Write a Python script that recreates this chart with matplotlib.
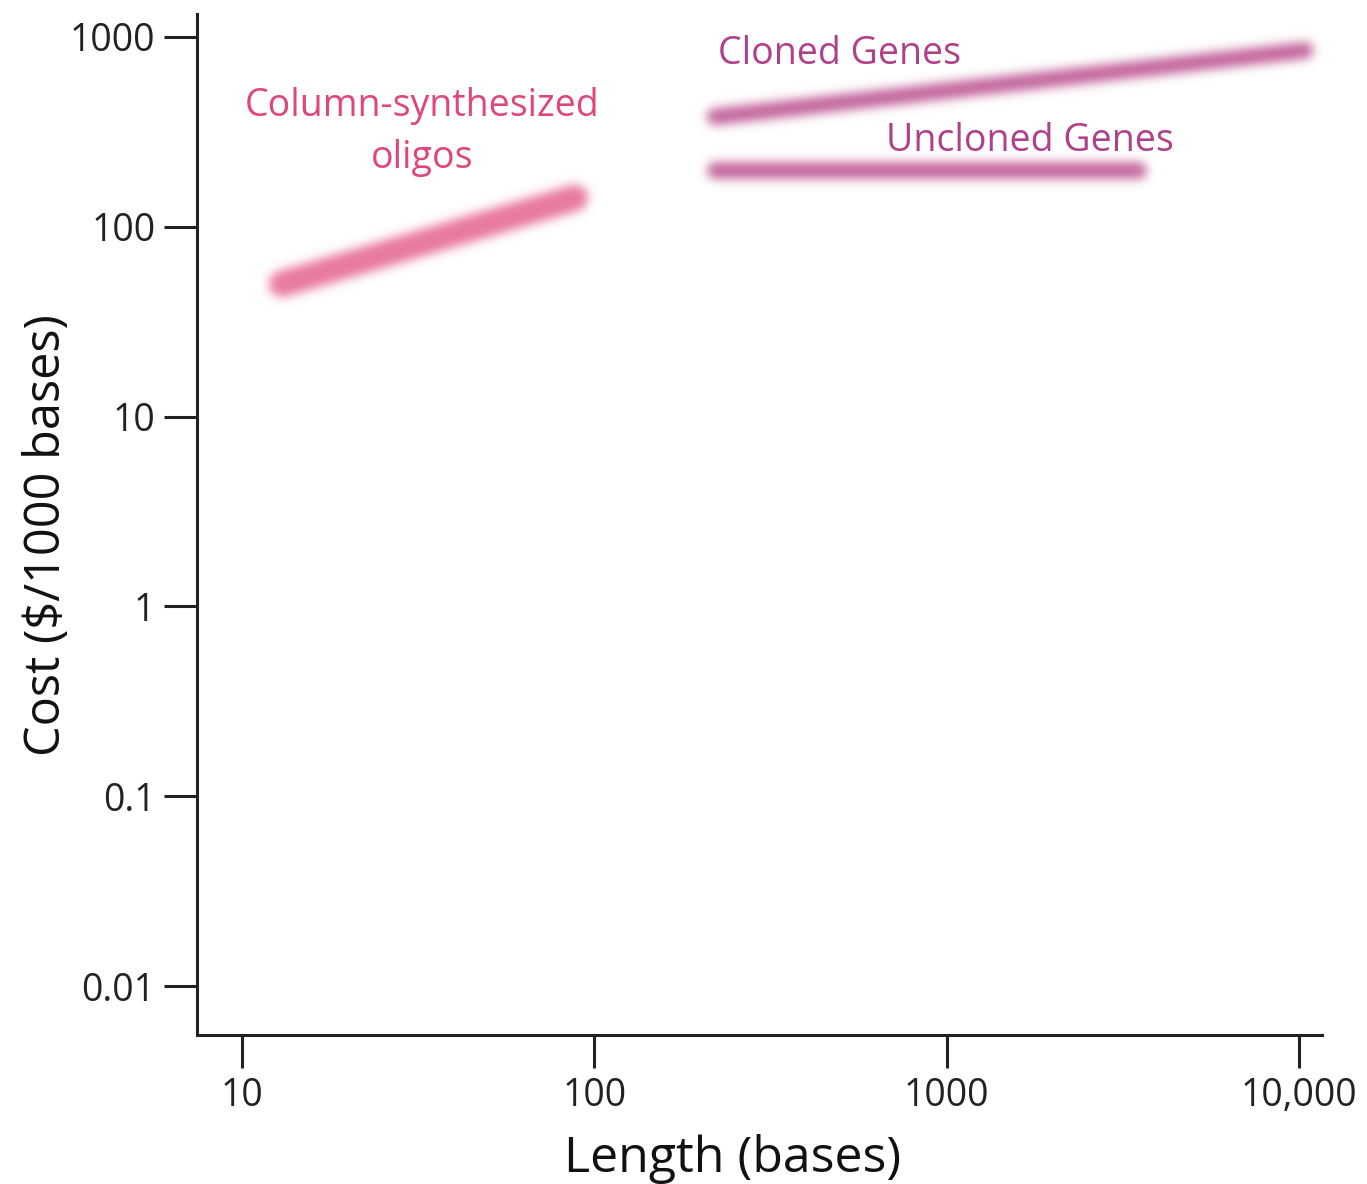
import numpy as np
import matplotlib
matplotlib.use("Agg")
import matplotlib.pyplot as plt
from matplotlib.ticker import FixedLocator, NullLocator

plt.rcParams['font.family'] = ['Open Sans', 'DejaVu Sans']

# Cost ranges ($ per 1000 bases) against product length (bases)
oligo_len = [13, 88]
oligo_cost = [50, 142]
cloned_len = [220, 10400]
cloned_cost = [380, 850]
uncloned_len = [220, 3500]
uncloned_cost = [200, 200]

x_ticks = [10, 100, 1000, 10000]
x_ticklabels = ["10", "100", "1000", "10,000"]
y_ticks = [0.01, 0.1, 1, 10, 100, 1000]
y_ticklabels = ["0.01", "0.1", "1", "10", "100", "1000"]

oligo_color = "#e0457c"
gene_color = "#b0408a"


def gaussian_blur(sigma):
    # agg filter: soft edges on the thick range bands
    radius = int(3 * sigma)
    k = np.exp(-0.5 * (np.arange(-radius, radius + 1) / sigma) ** 2)
    k /= k.sum()

    def filt(im, dpi):
        pad = radius
        src = np.pad(im, ((pad, pad), (pad, pad), (0, 0)))
        # premultiply alpha so the colour doesn't bleed to black
        src[..., :3] *= src[..., 3:4]
        tmp = np.zeros_like(src)
        for i, w in enumerate(k):
            tmp += w * np.roll(src, i - radius, axis=0)
        out = np.zeros_like(src)
        for i, w in enumerate(k):
            out += w * np.roll(tmp, i - radius, axis=1)
        a = out[..., 3:4]
        out[..., :3] = np.where(a > 1e-6, out[..., :3] / np.maximum(a, 1e-6), 0)
        return out, -pad, -pad
    return filt


fig = plt.figure(figsize=(13.67, 11.84), dpi=100)
ax = fig.add_axes([0.1441, 0.1258, 0.823, 0.8624])
ax.set_xscale("log")
ax.set_yscale("log")
ax.set_xlim(7.45, 11620)
ax.set_ylim(0.00552, 1322)

l1, = ax.plot(oligo_len, oligo_cost, color="#e9799f", lw=19, solid_capstyle="round")
l2, = ax.plot(cloned_len, cloned_cost, color="#c4659b", lw=12, solid_capstyle="round")
l3, = ax.plot(uncloned_len, uncloned_cost, color="#c4659b", lw=12, solid_capstyle="round")
for ln in (l1, l2, l3):
    ln.set_agg_filter(gaussian_blur(5))

ax.text(32.4, 316, "Column-synthesized\noligos", ha="center", va="center",
        fontsize=27, color=oligo_color, linespacing=1.5)
ax.text(224, 813, "Cloned Genes", ha="left", va="center", fontsize=27, color=gene_color)
ax.text(673, 283, "Uncloned Genes", ha="left", va="center", fontsize=27, color=gene_color)

for side in ("top", "right"):
    ax.spines[side].set_visible(False)
for side in ("left", "bottom"):
    ax.spines[side].set_linewidth(2.2)
    ax.spines[side].set_color("#222222")

ax.xaxis.set_major_locator(FixedLocator(x_ticks))
ax.xaxis.set_minor_locator(NullLocator())
ax.set_xticklabels(x_ticklabels)
ax.yaxis.set_major_locator(FixedLocator(y_ticks))
ax.yaxis.set_minor_locator(NullLocator())
ax.set_yticklabels(y_ticklabels)
ax.tick_params(length=24, width=2.2, color="#222222", labelsize=27,
               labelcolor="#222222", pad=6)

ax.set_xlabel("Length (bases)", fontsize=36, color="#111111")
ax.xaxis.set_label_coords(0.476, -0.097)
ax.set_ylabel("Cost ($/1000 bases)", fontsize=35, color="#111111")
ax.yaxis.set_label_coords(-0.111, 0.49)

fig.savefig("out.png", dpi=100, facecolor="white")
